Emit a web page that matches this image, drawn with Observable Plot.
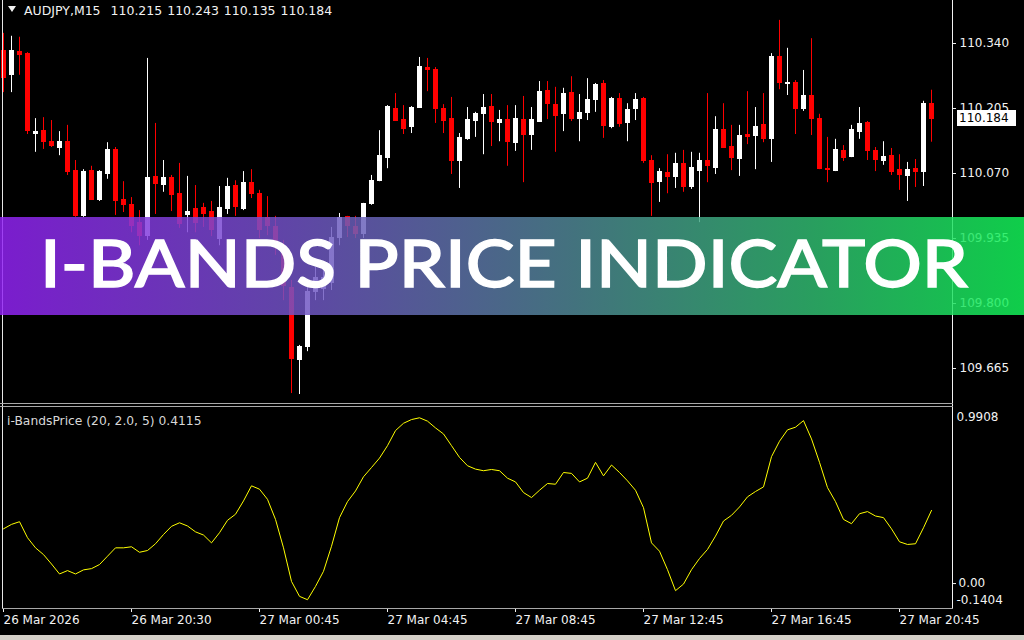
<!DOCTYPE html>
<html><head><meta charset="utf-8">
<script src="https://cdn.jsdelivr.net/npm/d3@7"></script>
<script src="https://cdn.jsdelivr.net/npm/@observablehq/plot@0.6"></script>
<style>
html,body{margin:0;padding:0;background:#000;}
#root{position:relative;width:1024px;height:640px;overflow:hidden;background:#000;font-family:"DejaVu Sans",sans-serif;}
.abs{position:absolute;}
.txt{position:absolute;white-space:pre;font-size:12px;line-height:14px;color:#f2f2f2;}
#banner{position:absolute;left:0;top:217px;width:1024px;height:98px;
 background:linear-gradient(90deg,rgba(146,34,245,0.84) 0%,rgba(112,86,196,0.84) 30%,rgba(80,136,150,0.84) 56%,rgba(48,190,112,0.84) 80%,rgba(18,245,88,0.84) 100%);}
</style></head>
<body><div id="root"></div>
<script>
// ---------- data ----------
const symbol = "AUDJPY,M15";
const opens  = [110.325,110.274,110.323,110.319,110.153,110.159,110.136,110.122,110.136,110.076,109.981,110.076,110.014,110.068,110.118,110.014,110.004,109.968,109.941,110.062,110.047,110.060,110.028,109.983,109.997,109.999,109.991,109.935,109.997,110.045,109.997,110.051,110.028,109.977,109.959,109.920,109.833,109.682,109.709,109.823,109.831,109.842,109.937,109.979,109.958,109.945,110.006,110.055,110.103,110.205,110.182,110.166,110.207,110.290,110.286,110.205,110.184,110.095,110.141,110.180,110.193,110.209,110.174,110.182,110.134,110.182,110.151,110.178,110.242,110.213,110.193,110.238,110.184,110.195,110.222,110.255,110.166,110.224,110.174,110.203,110.224,110.097,110.053,110.072,110.062,110.089,110.043,110.076,110.095,110.082,110.161,110.126,110.101,110.151,110.147,110.170,110.141,110.313,110.255,110.259,110.205,110.230,110.184,110.080,110.076,110.116,110.105,110.157,110.174,110.116,110.095,110.107,110.078,110.064,110.080,110.074,110.215];
const highs  = [110.361,110.355,110.353,110.321,110.184,110.186,110.180,110.157,110.170,110.097,110.078,110.085,110.076,110.134,110.124,110.053,110.020,109.993,110.309,110.174,110.097,110.066,110.091,110.064,110.045,110.008,110.012,110.043,110.060,110.055,110.074,110.078,110.035,110.022,109.981,109.931,109.848,109.713,109.833,109.875,109.877,109.958,109.987,109.981,109.981,110.008,110.066,110.159,110.211,110.236,110.211,110.209,110.311,110.309,110.290,110.213,110.228,110.153,110.207,110.197,110.234,110.234,110.201,110.211,110.211,110.230,110.207,110.261,110.261,110.249,110.247,110.271,110.234,110.267,110.257,110.263,110.228,110.236,110.215,110.236,110.228,110.107,110.080,110.109,110.112,110.118,110.114,110.112,110.236,110.188,110.215,110.170,110.170,110.240,110.207,110.236,110.319,110.388,110.330,110.263,110.284,110.350,110.193,110.145,110.141,110.128,110.170,110.207,110.178,110.124,110.136,110.122,110.109,110.093,110.099,110.220,110.243];
const lows   = [110.238,110.238,110.274,110.151,110.114,110.120,110.124,110.107,110.066,109.979,109.979,110.014,110.012,110.058,109.983,109.989,109.947,109.920,109.931,109.985,110.031,109.991,109.956,109.947,109.947,109.958,109.939,109.920,109.985,109.981,109.993,110.018,109.935,109.941,109.900,109.806,109.613,109.611,109.700,109.806,109.806,109.827,109.920,109.937,109.935,109.935,110.004,110.053,110.080,110.178,110.151,110.153,110.205,110.240,110.174,110.153,110.068,110.039,110.139,110.145,110.109,110.126,110.136,110.085,110.116,110.051,110.118,110.176,110.182,110.114,110.157,110.178,110.136,110.180,110.197,110.143,110.163,110.166,110.136,110.180,110.091,109.981,110.010,110.028,110.039,110.031,110.037,109.968,110.051,110.068,110.122,110.076,110.064,110.130,110.078,110.134,110.093,110.244,110.232,110.151,110.199,110.149,110.078,110.051,110.074,110.095,110.103,110.141,110.097,110.074,110.087,110.066,110.035,110.012,110.041,110.043,110.135];
const closes = [110.269,110.325,110.317,110.159,110.157,110.136,110.128,110.136,110.074,109.981,110.074,110.016,110.074,110.118,110.012,110.004,109.962,109.941,110.060,110.049,110.060,110.026,109.966,109.991,109.968,109.986,109.952,109.999,110.041,110.001,110.051,110.028,109.952,109.960,109.920,109.837,109.684,109.709,109.823,109.852,109.852,109.937,109.977,109.962,109.945,110.006,110.055,110.107,110.209,110.180,110.163,110.207,110.292,110.286,110.203,110.180,110.095,110.143,110.182,110.193,110.207,110.176,110.182,110.136,110.184,110.151,110.182,110.240,110.215,110.190,110.236,110.184,110.195,110.222,110.253,110.168,110.224,110.172,110.201,110.222,110.095,110.051,110.074,110.062,110.089,110.043,110.082,110.097,110.085,110.161,110.124,110.103,110.147,110.145,110.166,110.141,110.313,110.259,110.259,110.205,110.230,110.184,110.080,110.078,110.118,110.103,110.161,110.172,110.116,110.099,110.105,110.074,110.066,110.078,110.074,110.215,110.184];
const bandsPrice = [0.308,0.333,0.348,0.258,0.201,0.163,0.110,0.054,0.073,0.054,0.077,0.084,0.107,0.154,0.201,0.201,0.207,0.176,0.186,0.224,0.276,0.322,0.342,0.324,0.291,0.273,0.229,0.286,0.356,0.390,0.465,0.550,0.531,0.474,0.361,0.201,0.012,-0.072,-0.091,-0.016,0.069,0.210,0.371,0.461,0.521,0.601,0.653,0.706,0.776,0.861,0.902,0.923,0.933,0.914,0.876,0.842,0.776,0.710,0.663,0.644,0.635,0.642,0.635,0.593,0.572,0.512,0.484,0.525,0.563,0.559,0.625,0.620,0.572,0.593,0.682,0.606,0.667,0.625,0.578,0.525,0.427,0.229,0.182,0.078,-0.040,-0.003,0.078,0.141,0.192,0.267,0.352,0.384,0.431,0.488,0.518,0.544,0.714,0.801,0.865,0.880,0.917,0.814,0.682,0.540,0.461,0.361,0.337,0.393,0.405,0.380,0.371,0.308,0.235,0.220,0.224,0.314,0.4115];
const priceTicks = [109.665,109.800,109.935,110.070,110.205,110.340];
const timeTickBars = [0,16,32,48,64,80,96,112];
const timeLabels = ["26 Mar 2026","26 Mar 20:30","27 Mar 00:45","27 Mar 04:45","27 Mar 08:45","27 Mar 12:45","27 Mar 16:45","27 Mar 20:45"];
const indicatorName = "i-BandsPrice (20, 2.0, 5)";
const indicatorRange = [-0.1404, 0.9908];
const indicatorTicks = [0];
const bannerTitle = "I-BANDS PRICE INDICATOR";

// ---------- layout ----------
const W = 1024, AXW = 72, LEFT = 2;
const xDomain = [-0.125, 118.625];
const priceDomain = [109.5903, 110.4293];
const bull = "#ffffff", bear = "#ff0000";
const root = document.getElementById("root");
const bars = opens.map((o, i) => ({i, o, h: highs[i], l: lows[i], c: closes[i], up: closes[i] >= o}));
const last = bars[bars.length - 1];
const f3 = d3.format(".3f");

const main = Plot.plot({
  width: W, height: 404, marginLeft: LEFT, marginRight: AXW, marginTop: 0, marginBottom: 0,
  style: {background: "transparent", color: "#f2f2f2", fontFamily: "DejaVu Sans", fontSize: "12px"},
  x: {domain: xDomain, axis: null},
  y: {domain: priceDomain},
  marks: [
    Plot.ruleX(bars, {x: "i", y1: "l", y2: "h", stroke: d => d.up ? bull : bear, strokeWidth: 1}),
    Plot.rect(bars, {x1: d => d.i - 0.3125, x2: d => d.i + 0.3125, y1: "o", y2: "c",
      fill: d => d.up ? bull : bear, insetTop: -0.5, insetBottom: -0.5, shapeRendering: "crispEdges"}),
    Plot.axisY({anchor: "right", ticks: priceTicks, tickFormat: f3, tickSize: 3, tickPadding: 4, label: null})
  ]
});
main.style.position = "absolute"; main.style.left = "0px"; main.style.top = "0px";
root.appendChild(main);

const ind = Plot.plot({
  width: W, height: 228, marginLeft: LEFT, marginRight: AXW, marginTop: 0, marginBottom: 27,
  style: {background: "transparent", color: "#f2f2f2", fontFamily: "DejaVu Sans", fontSize: "12px"},
  x: {domain: xDomain},
  y: {domain: indicatorRange},
  marks: [
    Plot.line(bandsPrice, {x: (d, i) => i, y: d => d, stroke: "#ffff00", strokeWidth: 1}),
    Plot.axisX({ticks: timeTickBars, tickFormat: d => timeLabels[timeTickBars.indexOf(d)], textAnchor: "start",
      tickSize: 4, tickPadding: 3, label: null}),
    Plot.axisY({anchor: "right", ticks: indicatorTicks, tickFormat: d3.format(".2f"), tickSize: 3, tickPadding: 3, label: null}),
    Plot.text([indicatorRange[1]], {y: d => d, frameAnchor: "right", dx: 4, dy: 10, textAnchor: "start", text: d => d.toFixed(4), fill: "#f2f2f2"}),
    Plot.text([indicatorRange[0]], {y: d => d, frameAnchor: "right", dx: 4, dy: -8, textAnchor: "start", text: d => d.toFixed(4), fill: "#f2f2f2"})
  ]
});
ind.style.position = "absolute"; ind.style.left = "0px"; ind.style.top = "407px";
root.appendChild(ind);

function box(l, t, w, h, bg) {
  const d = document.createElement("div");
  d.className = "abs";
  Object.assign(d.style, {left: l + "px", top: t + "px", width: w + "px", height: h + "px", background: bg});
  root.appendChild(d);
  return d;
}
// frame lines
box(2, 0, 1, 608, "#e6e6e6");
box(952, 0, 1, 608, "#f2f2f2");
box(0, 403, 953, 1, "#a8a8a8");
box(0, 406, 953, 1, "#a8a8a8");
box(2, 608, 951, 1, "#a8a8a8");
box(0, 635, 1024, 5, "#d4d0c8");

// last-price box
const yLast = main.scale("y").apply(last.c);
const pb = box(957, Math.round(yLast) - 8, 59, 16, "#ffffff");
pb.innerHTML = `<div class="txt" style="left:2px;top:1px;color:#000">${f3(last.c)}</div>`;

// header
const tri = document.createElement("div");
tri.className = "abs";
Object.assign(tri.style, {left: "8px", top: "6px", width: 0, height: 0, borderLeft: "4px solid transparent", borderRight: "4px solid transparent", borderTop: "6px solid #f2f2f2"});
root.appendChild(tri);
const hdr = document.createElement("div");
hdr.className = "txt"; hdr.style.left = "24px"; hdr.style.top = "4px"; hdr.style.fontSize = "12.5px"; hdr.style.wordSpacing = "1px";
hdr.textContent = `${symbol}  ${[last.o, last.h, last.l, last.c].map(f3).join(" ")}`;
root.appendChild(hdr);

const il = document.createElement("div");
il.className = "txt"; il.style.left = "7px"; il.style.top = "414px"; il.style.color = "#d8d8d8"; il.style.fontSize = "12.3px";
il.textContent = `${indicatorName} ${bandsPrice[bandsPrice.length - 1].toFixed(4)}`;
root.appendChild(il);

// banner
const bn = document.createElement("div");
bn.id = "banner";
bn.innerHTML = `<svg width="1024" height="98" style="position:absolute;left:0;top:0"><text x="40" y="70" textLength="928" lengthAdjust="spacingAndGlyphs" fill="#ffffff" stroke="#ffffff" stroke-width="1.3" style="font-family:Lato,'Open Sans',sans-serif;font-size:66px;font-weight:500">${bannerTitle}</text></svg>`;
root.appendChild(bn);
</script>
</body></html>
